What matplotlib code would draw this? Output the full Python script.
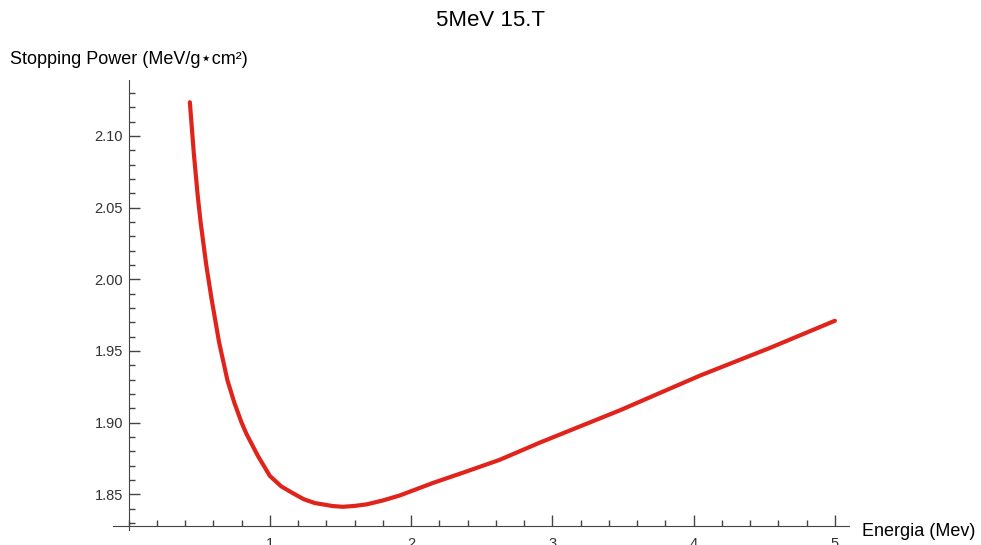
import matplotlib.pyplot as plt
import numpy as np
from matplotlib.ticker import MultipleLocator, FixedLocator

# stopping power curve sampled along energy
energy = [0.434, 0.462, 0.49, 0.51, 0.55, 0.587, 0.641, 0.70, 0.75, 0.80,
          0.835, 0.917, 1.0, 1.08, 1.163, 1.24, 1.319, 1.446, 1.517, 1.60,
          1.686, 1.80, 1.92, 2.154, 2.394, 2.628, 2.912, 3.478, 4.044, 4.539,
          5.0]
power = [2.1235, 2.088, 2.058, 2.040, 2.010, 1.9867, 1.956, 1.9295, 1.9135,
         1.900, 1.892, 1.8765, 1.8628, 1.8555, 1.8507, 1.8465, 1.8438, 1.8417,
         1.8412, 1.8418, 1.8429, 1.8456, 1.8491, 1.8578, 1.8659, 1.874, 1.886,
         1.9085, 1.9327, 1.952, 1.971]

xticks = [1, 2, 3, 4, 5]
yticks = [1.85, 1.90, 1.95, 2.00, 2.05, 2.10]

plt.rcParams['font.family'] = ['Liberation Sans', 'DejaVu Sans']

fig = plt.figure(figsize=(9.81, 5.45), dpi=100)
ax = fig.add_axes([113/981, 15/545, 736/981, 450/545])

ax.plot(energy, power, color='#e0241c', lw=3, solid_capstyle='round',
        solid_joinstyle='round')

ax.set_xlim(-0.11, 5.1)
ax.set_ylim(1.825, 2.139)

for s in ['top', 'right']:
    ax.spines[s].set_visible(False)
ax.spines['left'].set_position(('data', 0))
ax.spines['bottom'].set_position(('data', 1.828))
ax.spines['left'].set_color('#444444')
ax.spines['bottom'].set_color('#444444')

ax.xaxis.set_major_locator(FixedLocator(xticks))
ax.xaxis.set_minor_locator(MultipleLocator(0.2))
ax.yaxis.set_major_locator(FixedLocator(yticks))
ax.yaxis.set_minor_locator(MultipleLocator(0.01))
ax.set_xticklabels([str(t) for t in xticks])
ax.set_yticklabels(['%.2f' % t for t in yticks])

ax.tick_params(axis='both', which='major', direction='in', length=8, width=1,
               color='#444444', labelsize=10.5, labelcolor='#333333')
ax.tick_params(axis='both', which='minor', direction='in', length=4, width=1,
               color='#444444')
ax.tick_params(axis='x', pad=8)
ax.tick_params(axis='y', pad=4)

fig.text(0.5, 1 - 20/545, '5MeV 15.T', ha='center', va='center', fontsize=16)
fig.text(10/981, 1 - 59/545, 'Stopping Power (MeV/g\u22c6cm\u00b2)',
         ha='left', va='center', fontsize=13)
fig.text(862/981, 1 - 532/545, 'Energia (Mev)', ha='left', va='center',
         fontsize=13)

fig.savefig('out.png', dpi=100)
